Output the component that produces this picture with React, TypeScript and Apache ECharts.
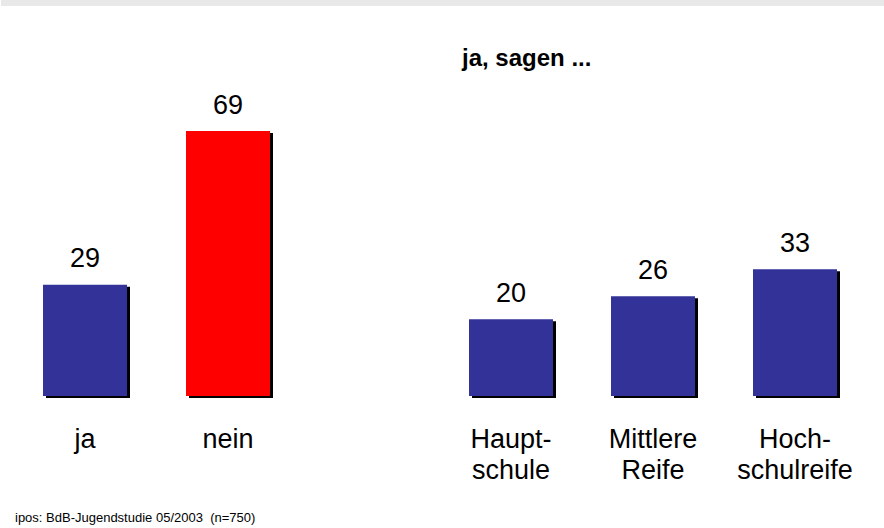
import React, { useEffect, useRef } from "react";
import * as echarts from "echarts";

const leftCategories = ["ja", "nein"];
const leftValues = [29, 69];
const leftColors = ["#333399", "#FF0000"];

const rightCategories = ["Haupt-\nschule", "Mittlere\nReife", "Hoch-\nschulreife"];
const rightValues = [20, 26, 33];

const rightTitle = "ja, sagen ...";
const footer = "ipos: BdB-Jugendstudie 05/2003  (n=750)";

export default function App() {
  const ref = useRef<HTMLDivElement>(null);
  useEffect(() => {
    document.body.style.margin = "0";
    const chart = echarts.init(ref.current!, null, { renderer: "svg" });
    const font = "'Liberation Sans', Arial, sans-serif";
    const labelCommon = {
      show: true,
      position: "top" as const,
      distance: 13,
      fontSize: 27,
      color: "#000",
      fontFamily: font,
    };
    const axisLabel = {
      fontSize: 27,
      lineHeight: 31,
      color: "#000",
      fontFamily: font,
      margin: 27,
      interval: 0,
    };
    const shadow = { shadowColor: "#000", shadowOffsetX: 3, shadowOffsetY: 2, shadowBlur: 0 };
    chart.setOption({
      animation: false,
      backgroundColor: "#fff",
      graphic: [
        { type: "rect", shape: { x: 1, y: 0, width: 883, height: 6 }, style: { fill: "#e8e8e8" } },
        {
          type: "text", left: 462, top: 45,
          style: { text: rightTitle, font: `bold 24px ${font}`, fill: "#000" },
        },
        {
          type: "text", left: 15, top: 511,
          style: { text: footer, font: `13px ${font}`, fill: "#000" },
        },
      ],
      grid: [
        { left: 13.5, width: 286, top: 12, bottom: 132, containLabel: false },
        { left: 440, width: 426, top: 12, bottom: 132, containLabel: false },
      ],
      xAxis: [
        {
          type: "category", gridIndex: 0, data: leftCategories,
          axisLine: { show: false }, axisTick: { show: false }, axisLabel,
        },
        {
          type: "category", gridIndex: 1, data: rightCategories,
          axisLine: { show: false }, axisTick: { show: false }, axisLabel,
        },
      ],
      yAxis: [
        { type: "value", gridIndex: 0, min: 0, max: 100, show: false },
        { type: "value", gridIndex: 1, min: 0, max: 100, show: false },
      ],
      series: [
        {
          type: "bar", xAxisIndex: 0, yAxisIndex: 0, barWidth: 84,
          data: leftValues.map((v, i) => ({ value: v, itemStyle: { color: leftColors[i], ...shadow } })),
          label: labelCommon,
        },
        {
          type: "bar", xAxisIndex: 1, yAxisIndex: 1, barWidth: 84,
          itemStyle: { color: "#333399", ...shadow },
          data: rightValues,
          label: labelCommon,
        },
      ],
    });
    return () => chart.dispose();
  }, []);
  return <div ref={ref} style={{ width: 884, height: 528 }} />;
}
